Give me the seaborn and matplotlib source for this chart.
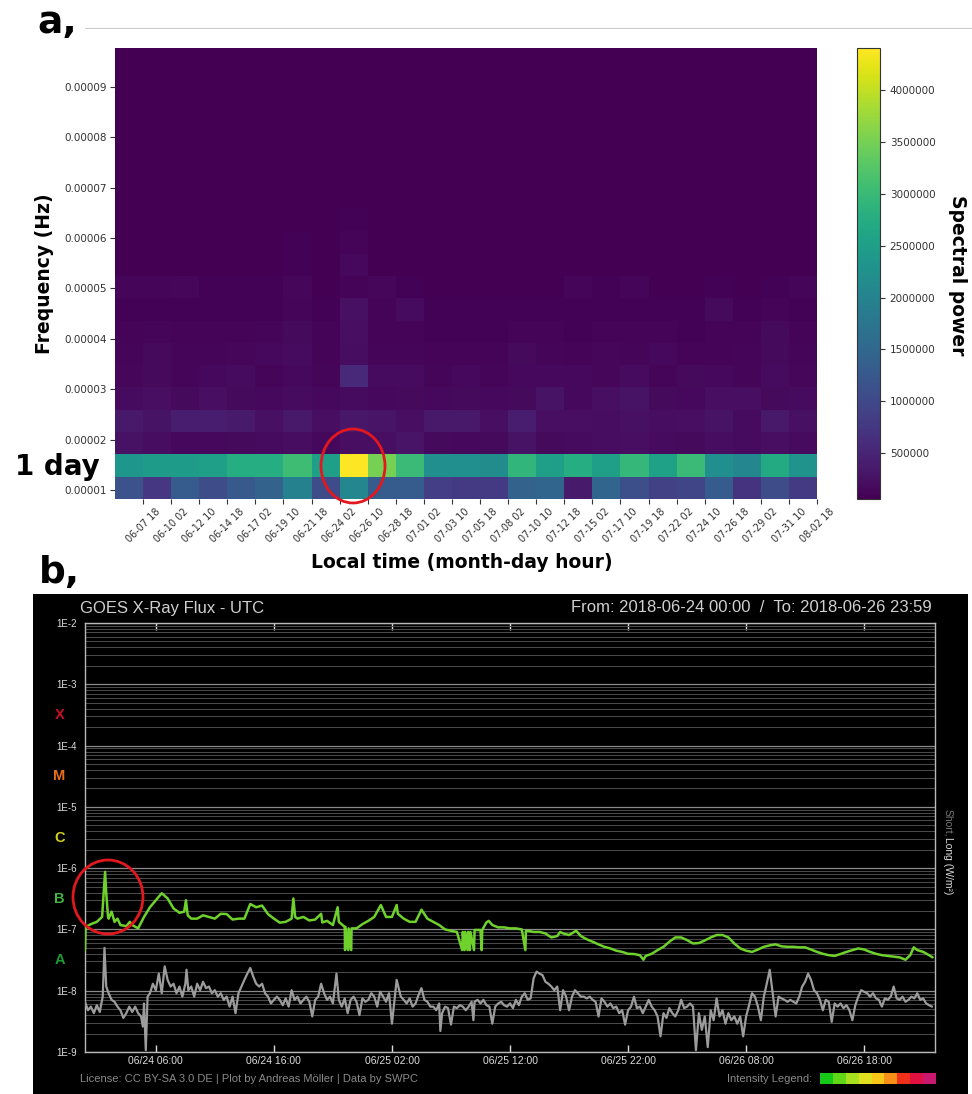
import numpy as np
import pandas as pd
import seaborn as sns
import matplotlib
matplotlib.use("Agg")
import matplotlib.pyplot as plt
from matplotlib.patches import Ellipse, Rectangle
from matplotlib.lines import Line2D
from matplotlib.ticker import LogLocator, NullFormatter

# ---------------- Panel a data ----------------
time_labels = ["06-07 18", "06-10 02", "06-12 10", "06-14 18", "06-17 02", "06-19 10",
               "06-21 18", "06-24 02", "06-26 10", "06-28 18", "07-01 02", "07-03 10",
               "07-05 18", "07-08 02", "07-10 10", "07-12 18", "07-15 02", "07-17 10",
               "07-19 18", "07-22 02", "07-24 10", "07-26 18", "07-29 02", "07-31 10",
               "08-02 18"]
freq_bin_start = 8.2e-6
freq_bin_width = 4.43e-6
freq_top = 9.775e-5
freq_ticks = [1e-5, 2e-5, 3e-5, 4e-5, 5e-5, 6e-5, 7e-5, 8e-5, 9e-5]
freq_tick_labels = ["0.00001", "0.00002", "0.00003", "0.00004", "0.00005",
                    "0.00006", "0.00007", "0.00008", "0.00009"]
cbar_ticks = [500000, 1000000, 1500000, 2000000, 2500000, 3000000, 3500000, 4000000]

# spectral power, rows from lowest frequency bin upward, 25 time segments each
power_r00 = [1.15e6, 0.75e6, 1.3e6, 1.05e6, 1.25e6, 1.4e6, 1.95e6, 1.05e6, 2.05e6, 1.3e6, 1.3e6, 0.85e6, 0.8e6,
             0.8e6, 1.4e6, 1.45e6, 0.35e6, 1.45e6, 1.1e6, 0.9e6, 0.95e6, 1.3e6, 0.7e6, 1.05e6, 0.8e6]
power_r01 = [2.35e6, 2.45e6, 2.45e6, 2.5e6, 2.75e6, 2.75e6, 3.05e6, 2.5e6, 4.41e6, 3.5e6, 3.0e6, 2.2e6, 2.2e6,
             2.15e6, 2.9e6, 2.5e6, 2.75e6, 2.5e6, 2.95e6, 2.55e6, 3.0e6, 2.2e6, 2.05e6, 2.7e6, 2.3e6]
power_r02 = [0.25e6, 0.2e6, 0.15e6, 0.15e6, 0.17e6, 0.18e6, 0.2e6, 0.15e6, 0.22e6, 0.22e6, 0.28e6, 0.16e6, 0.15e6,
             0.16e6, 0.27e6, 0.16e6, 0.18e6, 0.2e6, 0.22e6, 0.18e6, 0.16e6, 0.2e6, 0.18e6, 0.22e6, 0.18e6]
power_r03 = [0.34e6, 0.26e6, 0.38e6, 0.38e6, 0.36e6, 0.24e6, 0.34e6, 0.22e6, 0.32e6, 0.28e6, 0.22e6, 0.34e6, 0.34e6,
             0.22e6, 0.38e6, 0.22e6, 0.22e6, 0.2e6, 0.24e6, 0.2e6, 0.22e6, 0.26e6, 0.18e6, 0.34e6, 0.24e6]
power_r04 = [0.19e6, 0.22e6, 0.16e6, 0.21e6, 0.16e6, 0.15e6, 0.19e6, 0.15e6, 0.19e6, 0.15e6, 0.16e6, 0.15e6, 0.16e6,
             0.15e6, 0.16e6, 0.26e6, 0.15e6, 0.21e6, 0.26e6, 0.16e6, 0.15e6, 0.21e6, 0.22e6, 0.16e6, 0.19e6]
power_r05 = [0.14e6, 0.17e6, 0.12e6, 0.15e6, 0.19e6, 0.12e6, 0.15e6, 0.12e6, 0.55e6, 0.19e6, 0.19e6, 0.12e6, 0.15e6,
             0.12e6, 0.15e6, 0.15e6, 0.15e6, 0.14e6, 0.19e6, 0.12e6, 0.17e6, 0.15e6, 0.12e6, 0.19e6, 0.14e6]
power_r06 = [0.12e6, 0.17e6, 0.12e6, 0.12e6, 0.14e6, 0.15e6, 0.19e6, 0.1e6, 0.2e6, 0.12e6, 0.12e6, 0.1e6, 0.1e6,
             0.1e6, 0.17e6, 0.12e6, 0.1e6, 0.14e6, 0.12e6, 0.15e6, 0.1e6, 0.1e6, 0.12e6, 0.17e6, 0.12e6]
power_r07 = [0.1e6, 0.12e6, 0.1e6, 0.1e6, 0.1e6, 0.12e6, 0.17e6, 0.1e6, 0.22e6, 0.1e6, 0.1e6, 0.08e6, 0.08e6,
             0.08e6, 0.1e6, 0.1e6, 0.08e6, 0.1e6, 0.1e6, 0.1e6, 0.08e6, 0.1e6, 0.1e6, 0.16e6, 0.1e6]
power_r08 = [0.08e6, 0.08e6, 0.08e6, 0.08e6, 0.08e6, 0.08e6, 0.12e6, 0.08e6, 0.24e6, 0.1e6, 0.18e6, 0.08e6, 0.08e6,
             0.08e6, 0.08e6, 0.08e6, 0.08e6, 0.08e6, 0.08e6, 0.08e6, 0.08e6, 0.16e6, 0.08e6, 0.1e6, 0.08e6]
power_r09 = [0.12e6, 0.12e6, 0.13e6, 0.08e6, 0.08e6, 0.08e6, 0.14e6, 0.07e6, 0.1e6, 0.14e6, 0.08e6, 0.07e6, 0.07e6,
             0.07e6, 0.07e6, 0.07e6, 0.12e6, 0.08e6, 0.12e6, 0.07e6, 0.07e6, 0.08e6, 0.07e6, 0.08e6, 0.12e6]
power_r10 = [0.07e6, 0.07e6, 0.07e6, 0.07e6, 0.07e6, 0.07e6, 0.08e6, 0.07e6, 0.15e6, 0.07e6, 0.07e6, 0.07e6, 0.07e6,
             0.07e6, 0.07e6, 0.07e6, 0.07e6, 0.07e6, 0.07e6, 0.07e6, 0.07e6, 0.07e6, 0.07e6, 0.07e6, 0.07e6]
power_r11 = [0.07e6, 0.065e6, 0.065e6, 0.065e6, 0.065e6, 0.065e6, 0.08e6, 0.065e6, 0.1e6, 0.065e6, 0.065e6, 0.065e6,
             0.065e6, 0.065e6, 0.065e6, 0.065e6, 0.065e6, 0.065e6, 0.065e6, 0.065e6, 0.065e6, 0.065e6, 0.065e6,
             0.065e6, 0.065e6]
power_r12 = [0.065e6, 0.065e6, 0.065e6, 0.065e6, 0.065e6, 0.065e6, 0.07e6, 0.065e6, 0.08e6, 0.065e6, 0.065e6, 0.065e6,
             0.065e6, 0.065e6, 0.065e6, 0.065e6, 0.065e6, 0.065e6, 0.065e6, 0.065e6, 0.065e6, 0.065e6, 0.065e6,
             0.065e6, 0.065e6]
power_r13 = [0.065e6] * 25
power_r14 = [0.065e6] * 25
power_r15 = [0.065e6] * 25
power_r16 = [0.065e6] * 25
power_r17 = [0.065e6] * 25
power_r18 = [0.065e6] * 25
power_r19 = [0.065e6] * 25
power_r20 = [0.065e6] * 25

# ---------------- Panel b data (hours after 2018-06-24 00:00 UTC, W/m^2) ----------------
long_hours = [0.0, 0.05, 0.5, 1.0, 1.45, 1.6, 1.7, 1.8, 1.95, 2.0,
              2.25, 2.5, 2.75, 3.0, 3.5, 3.8, 4.0, 4.5, 5.0, 5.5,
              6.0, 6.5, 7.0, 7.5, 8.0, 8.4, 8.55, 8.7, 9.0, 9.5,
              10.0, 10.5, 11.0, 11.5, 12.0, 12.5, 13.0, 13.5, 14.0, 14.5,
              15.0, 15.5, 16.0, 16.5, 17.0, 17.5, 17.65, 17.8, 18.0, 18.5,
              19.0, 19.5, 20.0, 20.1, 20.5, 21.0, 21.4, 21.5, 22.0, 22.03,
              22.06, 22.3, 22.33, 22.55, 22.58, 23.0, 23.5, 24.0, 24.5, 25.06,
              25.5, 26.0, 26.4, 26.5, 27.0, 27.5, 28.0, 28.5, 29.0, 29.5,
              30.0, 30.5, 31.0, 31.5, 31.95, 32.0, 32.15, 32.2, 32.4, 32.45,
              32.6, 32.65, 32.95, 33.0, 33.5, 33.6, 33.65, 34.0, 34.2, 34.5,
              35.0, 35.5, 36.0, 36.5, 37.0, 37.3, 37.35, 37.5, 38.0, 38.5,
              39.0, 39.5, 40.0, 40.25, 40.5, 41.0, 41.6, 42.0, 42.5, 43.0,
              43.5, 44.0, 44.5, 45.0, 45.5, 46.0, 46.5, 47.0, 47.3, 47.5,
              48.0, 48.5, 49.0, 49.5, 50.0, 50.5, 51.0, 51.5, 52.0, 52.5,
              53.0, 53.5, 54.0, 54.5, 55.0, 55.5, 56.0, 56.5, 57.0, 57.5,
              58.0, 58.5, 59.0, 59.5, 60.0, 60.5, 61.0, 61.5, 62.0, 62.5,
              63.0, 63.5, 64.0, 64.5, 65.0, 65.5, 66.0, 66.5, 67.0, 67.5,
              68.0, 68.5, 69.0, 69.5, 69.9, 70.2, 70.5, 71.0, 71.5, 71.8]
long_flux = [4.6e-8, 1.1e-7, 1.22e-7, 1.33e-7, 1.6e-7, 4.4e-7, 8.7e-7, 3.9e-7, 1.6e-7, 1.5e-7,
             1.95e-7, 1.33e-7, 1.5e-7, 1.18e-7, 1.13e-7, 1.33e-7, 1.18e-7, 1.04e-7, 1.6e-7, 2.3e-7,
             3.0e-7, 3.9e-7, 3.2e-7, 2.2e-7, 1.87e-7, 1.95e-7, 3.0e-7, 1.7e-7, 1.5e-7, 1.5e-7,
             1.7e-7, 1.6e-7, 1.5e-7, 1.8e-7, 1.78e-7, 1.45e-7, 1.5e-7, 1.5e-7, 2.6e-7, 2.3e-7,
             2.45e-7, 1.78e-7, 1.5e-7, 1.29e-7, 1.33e-7, 1.5e-7, 3.2e-7, 1.6e-7, 1.5e-7, 1.6e-7,
             1.4e-7, 1.45e-7, 1.8e-7, 1.3e-7, 1.38e-7, 1.18e-7, 2.3e-7, 1.33e-7, 1.1e-7, 4.6e-8,
             1.1e-7, 4.6e-8, 1.04e-7, 4.6e-8, 1.04e-7, 1.04e-7, 1.22e-7, 1.38e-7, 1.6e-7, 2.5e-7,
             1.6e-7, 1.6e-7, 2.5e-7, 1.8e-7, 1.5e-7, 1.33e-7, 1.33e-7, 2.1e-7, 1.5e-7, 1.33e-7,
             1.18e-7, 1.0e-7, 9.5e-8, 9.1e-8, 4.6e-8, 9.1e-8, 4.6e-8, 9.1e-8, 4.6e-8, 9.1e-8,
             4.6e-8, 9.1e-8, 4.6e-8, 9.8e-8, 9.8e-8, 4.6e-8, 9.8e-8, 1.3e-7, 1.38e-7, 1.18e-7,
             1.08e-7, 1.08e-7, 1.04e-7, 1.04e-7, 1.0e-7, 4.6e-8, 9.5e-8, 9.5e-8, 9.1e-8, 9.1e-8,
             8.6e-8, 7.4e-8, 7.8e-8, 9.1e-8, 8.6e-8, 8.1e-8, 9.5e-8, 7.8e-8, 6.9e-8, 6.3e-8,
             5.7e-8, 5.2e-8, 4.9e-8, 4.5e-8, 4.3e-8, 4.0e-8, 3.97e-8, 3.8e-8, 3.2e-8, 3.7e-8,
             4.0e-8, 4.6e-8, 5.2e-8, 6.3e-8, 7.4e-8, 7.4e-8, 6.7e-8, 5.9e-8, 6.0e-8, 6.6e-8,
             7.4e-8, 8.1e-8, 8.1e-8, 7.4e-8, 5.9e-8, 4.9e-8, 4.5e-8, 4.3e-8, 4.7e-8, 5.2e-8,
             5.5e-8, 5.7e-8, 5.3e-8, 5.2e-8, 5.2e-8, 5.1e-8, 5.1e-8, 4.7e-8, 4.3e-8, 4.0e-8,
             3.8e-8, 3.7e-8, 3.97e-8, 4.3e-8, 4.6e-8, 4.9e-8, 4.7e-8, 4.3e-8, 4.0e-8, 3.8e-8,
             3.7e-8, 3.6e-8, 3.5e-8, 3.2e-8, 3.8e-8, 5.1e-8, 4.6e-8, 4.3e-8, 3.8e-8, 3.5e-8]

short_hours = [0.0, 0.25, 0.5, 0.75, 1.0, 1.25, 1.5, 1.65, 1.8, 2.0,
               2.25, 2.5, 2.75, 3.0, 3.25, 3.5, 3.75, 4.0, 4.25, 4.5,
               4.75, 4.9, 5.0, 5.15, 5.3, 5.5, 5.75, 6.0, 6.25, 6.5,
               6.75, 7.0, 7.25, 7.5, 7.75, 8.0, 8.25, 8.5, 8.6, 8.75,
               9.0, 9.25, 9.5, 9.75, 10.0, 10.25, 10.5, 10.75, 11.0, 11.25,
               11.5, 11.75, 12.0, 12.25, 12.5, 12.75, 13.0, 13.25, 13.5, 13.75,
               14.0, 14.25, 14.5, 14.75, 15.0, 15.25, 15.5, 15.75, 16.0, 16.25,
               16.5, 16.75, 17.0, 17.25, 17.5, 17.75, 18.0, 18.25, 18.5, 18.75,
               19.0, 19.25, 19.5, 19.75, 20.0, 20.25, 20.5, 20.75, 21.0, 21.3,
               21.5, 21.75, 22.0, 22.25, 22.5, 22.75, 23.0, 23.25, 23.5, 23.75,
               24.0, 24.25, 24.5, 24.75, 25.0, 25.25, 25.5, 25.75, 26.0, 26.25,
               26.4, 26.75, 27.0, 27.25, 27.5, 27.75, 28.0, 28.25, 28.5, 28.75,
               29.0, 29.25, 29.5, 29.75, 30.0, 30.1, 30.25, 30.5, 30.75, 31.0,
               31.25, 31.5, 31.75, 32.0, 32.25, 32.5, 32.75, 32.9, 33.0, 33.25,
               33.5, 33.75, 34.0, 34.25, 34.5, 34.75, 35.0, 35.25, 35.5, 35.75,
               36.0, 36.25, 36.5, 36.75, 37.0, 37.25, 37.5, 37.75, 38.0, 38.25,
               38.5, 38.75, 39.0, 39.25, 39.5, 39.75, 40.0, 40.25, 40.5, 40.75,
               41.0, 41.25, 41.5, 41.75, 42.0, 42.25, 42.5, 42.75, 43.0, 43.25,
               43.5, 43.75, 44.0, 44.25, 44.5, 44.75, 45.0, 45.25, 45.5, 45.75,
               46.0, 46.25, 46.5, 46.75, 47.0, 47.25, 47.5, 47.75, 48.0, 48.25,
               48.5, 48.75, 49.0, 49.25, 49.5, 49.75, 50.0, 50.25, 50.5, 50.75,
               51.0, 51.25, 51.5, 51.75, 52.0, 52.25, 52.5, 52.75, 53.0, 53.25,
               53.5, 53.75, 54.0, 54.25, 54.5, 54.75, 55.0, 55.25, 55.5, 55.75,
               56.0, 56.25, 56.5, 56.75, 57.0, 57.25, 57.5, 57.75, 58.0, 58.25,
               58.5, 58.75, 59.0, 59.25, 59.5, 59.75, 60.0, 60.25, 60.5, 60.75,
               61.0, 61.25, 61.5, 61.75, 62.0, 62.25, 62.5, 62.75, 63.0, 63.25,
               63.5, 63.75, 64.0, 64.25, 64.5, 64.75, 65.0, 65.25, 65.5, 65.75,
               66.0, 66.25, 66.5, 66.75, 67.0, 67.25, 67.5, 67.75, 68.0, 68.25,
               68.5, 68.75, 69.0, 69.25, 69.5, 69.75, 70.0, 70.25, 70.5, 70.75,
               71.0, 71.25, 71.5, 71.75]
short_flux = [6.6e-9, 4.8e-9, 5.5e-9, 4.3e-9, 5.8e-9, 4.5e-9, 8.0e-9, 5.0e-8, 1.17e-8, 9.1e-9,
              7.1e-9, 6.6e-9, 5.5e-9, 4.8e-9, 3.6e-9, 4.3e-9, 5.5e-9, 4.5e-9, 5.5e-9, 4.3e-9,
              3.8e-9, 2.6e-9, 6.2e-9, 1.07e-9, 8.0e-9, 9.1e-9, 1.3e-8, 1.02e-8, 1.9e-8, 9.1e-9,
              2.5e-8, 1.5e-8, 1.17e-8, 1.3e-8, 9.1e-9, 1.17e-8, 8.0e-9, 1.3e-8, 2.2e-8, 1.02e-8,
              1.17e-8, 8.0e-9, 1.3e-8, 1.02e-8, 1.4e-8, 1.1e-8, 1.17e-8, 9.1e-9, 1.02e-8, 8.0e-9,
              9.1e-9, 7.1e-9, 8.0e-9, 5.5e-9, 8.0e-9, 4.3e-9, 9.1e-9, 1.17e-8, 1.5e-8, 1.9e-8,
              2.35e-8, 1.7e-8, 1.3e-8, 1.17e-8, 1.3e-8, 9.1e-9, 8.0e-9, 6.2e-9, 7.1e-9, 8.0e-9,
              7.1e-9, 5.8e-9, 7.5e-9, 5.5e-9, 1.02e-8, 7.1e-9, 8.0e-9, 6.2e-9, 7.1e-9, 8.0e-9,
              6.6e-9, 3.8e-9, 7.1e-9, 8.0e-9, 1.3e-8, 9.1e-9, 7.1e-9, 8.0e-9, 6.2e-9, 1.9e-8,
              7.1e-9, 5.5e-9, 7.5e-9, 4.3e-9, 7.1e-9, 8.0e-9, 6.6e-9, 4.0e-9, 7.5e-9, 6.6e-9,
              7.1e-9, 9.1e-9, 8.0e-9, 5.5e-9, 9.6e-9, 8.0e-9, 6.6e-9, 9.1e-9, 2.9e-9, 8.0e-9,
              1.5e-8, 8.0e-9, 7.1e-9, 6.2e-9, 7.5e-9, 5.5e-9, 6.2e-9, 8.5e-9, 1.1e-8, 7.1e-9,
              6.6e-9, 5.5e-9, 5.5e-9, 4.8e-9, 6.2e-9, 2.2e-9, 4.3e-9, 5.5e-9, 5.2e-9, 2.8e-9,
              5.5e-9, 5.2e-9, 5.8e-9, 5.5e-9, 4.8e-9, 5.5e-9, 6.6e-9, 3.3e-9, 6.6e-9, 7.1e-9,
              6.2e-9, 7.1e-9, 5.8e-9, 5.5e-9, 2.9e-9, 5.5e-9, 6.2e-9, 6.6e-9, 5.8e-9, 5.5e-9,
              6.2e-9, 5.2e-9, 7.1e-9, 5.8e-9, 8.0e-9, 9.1e-9, 7.1e-9, 7.5e-9, 1.6e-8, 2.05e-8,
              1.9e-8, 1.8e-8, 1.4e-8, 1.3e-8, 1.17e-8, 1.02e-8, 1.17e-8, 4.8e-9, 1.02e-8, 8.0e-9,
              4.8e-9, 8.0e-9, 1.02e-8, 9.1e-9, 8.0e-9, 8.0e-9, 7.5e-9, 8.0e-9, 7.1e-9, 6.6e-9,
              3.8e-9, 7.5e-9, 6.6e-9, 5.5e-9, 6.2e-9, 5.2e-9, 5.5e-9, 4.3e-9, 4.8e-9, 2.8e-9,
              4.8e-9, 5.5e-9, 8.0e-9, 5.2e-9, 5.5e-9, 4.3e-9, 5.5e-9, 7.1e-9, 5.5e-9, 4.8e-9,
              3.8e-9, 1.8e-9, 4.3e-9, 3.6e-9, 5.2e-9, 4.3e-9, 3.8e-9, 4.8e-9, 7.1e-9, 5.2e-9,
              5.5e-9, 6.2e-9, 5.5e-9, 1.07e-9, 4.3e-9, 2.3e-9, 3.8e-9, 1.2e-9, 4.8e-9, 3.3e-9,
              7.5e-9, 3.8e-9, 4.8e-9, 2.9e-9, 4.3e-9, 3.3e-9, 3.8e-9, 2.9e-9, 3.8e-9, 1.8e-9,
              3.8e-9, 5.8e-9, 9.1e-9, 8.0e-9, 5.5e-9, 3.3e-9, 8.0e-9, 1.3e-8, 2.2e-8, 9.1e-9,
              3.8e-9, 8.0e-9, 7.5e-9, 7.1e-9, 6.6e-9, 7.1e-9, 6.6e-9, 6.2e-9, 8.0e-9, 1.17e-8,
              1.4e-8, 1.9e-8, 1.5e-8, 1.02e-8, 9.1e-9, 7.1e-9, 4.8e-9, 7.1e-9, 6.6e-9, 3.1e-9,
              6.2e-9, 5.5e-9, 6.2e-9, 5.2e-9, 5.8e-9, 4.8e-9, 3.3e-9, 5.8e-9, 8.0e-9, 1.02e-8,
              9.6e-9, 9.1e-9, 8.0e-9, 9.1e-9, 7.5e-9, 7.1e-9, 5.5e-9, 7.5e-9, 7.1e-9, 8.0e-9,
              1.17e-8, 7.5e-9, 7.1e-9, 8.0e-9, 6.6e-9, 7.1e-9, 8.0e-9, 7.5e-9, 9.1e-9, 7.1e-9,
              7.5e-9, 6.2e-9, 5.8e-9, 5.5e-9]

goes_xticks = [6, 16, 26, 36, 46, 56, 66]
goes_xticklabels = ["06/24 06:00", "06/24 16:00", "06/25 02:00", "06/25 12:00",
                    "06/25 22:00", "06/26 08:00", "06/26 18:00"]
goes_yticks = [1e-9, 1e-8, 1e-7, 1e-6, 1e-5, 1e-4, 1e-3, 1e-2]
goes_yticklabels = ["1E-9", "1E-8", "1E-7", "1E-6", "1E-5", "1E-4", "1E-3", "1E-2"]
flare_classes = ["X", "M", "C", "B", "A"]
flare_class_levels = [10 ** -3.5, 10 ** -4.5, 10 ** -5.5, 10 ** -6.5, 10 ** -7.5]
flare_class_colors = ["#c8102e", "#e8701a", "#d2d21e", "#46b446", "#1e9a32"]
legend_swatch_colors = ["#18c818", "#60d818", "#a8e020", "#e0e020", "#f8c818",
                        "#f89018", "#f03018", "#e01040", "#c81870"]

# ---------------- Figure ----------------
W, H = 972, 1094
sns.set_theme(style="white")
plt.rcParams['font.family'] = ['DejaVu Sans']
plt.rcParams['text.color'] = 'black'
plt.rcParams['axes.labelcolor'] = 'black'
fig = plt.figure(figsize=(W / 100, H / 100), dpi=100)
fig.patch.set_facecolor("white")


def fx(px):
    return px / W


def fy(py):
    return 1 - py / H


# ---------- Panel a ----------
power = np.array([power_r00, power_r01, power_r02, power_r03, power_r04, power_r05, power_r06,
                  power_r07, power_r08, power_r09, power_r10, power_r11, power_r12, power_r13,
                  power_r14, power_r15, power_r16, power_r17, power_r18, power_r19, power_r20])

ax_a = fig.add_axes([fx(115), fy(499), (817 - 115) / W, (499 - 48) / H])
cax = fig.add_axes([fx(857), fy(499), 23 / W, (499 - 48) / H])
sns.heatmap(power, ax=ax_a, cbar_ax=cax, cmap="viridis", vmin=55000, vmax=4410000,
            xticklabels=False, yticklabels=False)
ax_a.set_xlim(0, power.shape[1])
ax_a.set_ylim(0, (freq_top - freq_bin_start) / freq_bin_width)
ax_a.set_xticks(np.arange(1, len(time_labels) + 1))
ax_a.set_xticklabels(time_labels, rotation=45, fontsize=7, color="#333333")
ax_a.set_yticks([(f - freq_bin_start) / freq_bin_width for f in freq_ticks])
ax_a.set_yticklabels(freq_tick_labels, fontsize=7.5, color="#333333")
ax_a.tick_params(axis="both", bottom=True, left=True, length=3.5, width=0.8, color="#333333", pad=2)
for s in ax_a.spines.values():
    s.set_visible(False)

cbar = ax_a.collections[0].colorbar
cbar.set_ticks(cbar_ticks)
cbar.set_ticklabels([str(t) for t in cbar_ticks])
cbar.ax.tick_params(labelsize=7.5, length=3.5, width=0.8, colors="#333333")
cbar.outline.set_linewidth(0.8)
cbar.outline.set_edgecolor("#333333")

fig.text(fx(44), fy(274), "Frequency (Hz)", rotation=90, fontsize=13.5, fontweight="bold",
         ha="center", va="center", color="black")
fig.text(fx(462), fy(563), "Local time (month-day hour)", fontsize=13.5, fontweight="bold",
         ha="center", va="center", color="black")
fig.text(fx(957), fy(275), "Spectral power", rotation=270, fontsize=13.5, fontweight="bold",
         ha="center", va="center", color="black")
fig.text(fx(57), fy(467), "1 day", fontsize=20, fontweight="bold", ha="center", va="center",
         color="black")
fig.text(fx(37), fy(33), "a,", fontsize=27, fontweight="bold", ha="left", va="baseline",
         color="black")
fig.text(fx(39), fy(583), "b,", fontsize=27, fontweight="bold", ha="left", va="baseline",
         color="black")
fig.add_artist(Line2D([fx(85), 1.0], [fy(28), fy(28)], color="#cccccc", lw=0.8))

fig.add_artist(Ellipse((fx(353), fy(466)), 64 / W, 74 / H, fill=False, ec="#e3171e", lw=2.0,
                       transform=fig.transFigure, zorder=10))

# ---------- Panel b ----------
fig.add_artist(Rectangle((fx(33), 0), (968 - 33) / W, fy(594), facecolor="black",
                         edgecolor="none", transform=fig.transFigure, zorder=0))

ax_b = fig.add_axes([fx(85), fy(1052), 850 / W, (1052 - 623) / H])
ax_b.set_facecolor("black")

short_df = pd.DataFrame({"hours": short_hours, "flux": short_flux})
long_df = pd.DataFrame({"hours": long_hours, "flux": long_flux})
sns.lineplot(data=short_df, x="hours", y="flux", ax=ax_b, color="#9c9c9c", lw=1.6,
             estimator=None, zorder=3)
sns.lineplot(data=long_df, x="hours", y="flux", ax=ax_b, color="#6fd22c", lw=1.8,
             estimator=None, zorder=4)
ax_b.set_yscale("log")
ax_b.set_ylim(1e-9, 1e-2)
ax_b.set_xlim(0, 72)
ax_b.set_xlabel("")
ax_b.set_ylabel("")
ax_b.yaxis.set_minor_locator(LogLocator(base=10, subs=np.arange(2, 10)))
ax_b.yaxis.set_minor_formatter(NullFormatter())
ax_b.grid(which="minor", axis="y", color="#4c4c4c", lw=0.7)
ax_b.grid(which="major", axis="y", color="#8a8a8a", lw=0.9)
ax_b.grid(which="major", axis="x", visible=False)
ax_b.set_axisbelow(True)

narrow = ["Liberation Sans Narrow", "Liberation Sans", "DejaVu Sans"]
ax_b.set_xticks(goes_xticks)
ax_b.set_xticklabels(goes_xticklabels, fontsize=7.5, color="#dddddd", family=narrow)
ax_b.set_yticks(goes_yticks)
ax_b.set_yticklabels(goes_yticklabels, fontsize=7, color="#dddddd", family=narrow)
ax_b.tick_params(axis="x", which="major", direction="in", top=True, bottom=True, length=5,
                 width=1, color="#dddddd", pad=3)
ax_b.tick_params(axis="y", which="both", length=0, pad=6)
for s in ax_b.spines.values():
    s.set_color("#b8b8b8")
    s.set_linewidth(1.0)

ytr = ax_b.get_yaxis_transform()
for lab, lvl, col in zip(flare_classes, flare_class_levels, flare_class_colors):
    ax_b.text(-0.03, lvl, lab, transform=ytr, color=col, fontsize=10.5, fontweight="bold",
              ha="center", va="center", family=narrow)

fig.text(fx(80), fy(608), "GOES X-Ray Flux - UTC", color="#d0d0d0", fontsize=12, ha="left",
         va="center", family=narrow)
fig.text(fx(932), fy(608), "From: 2018-06-24 00:00  /  To: 2018-06-26 23:59", color="#d0d0d0",
         fontsize=12, ha="right", va="center", family=narrow)
fig.text(fx(948), fy(823), "Short,", rotation=270, color="#777777", fontsize=7.5, ha="center",
         va="center", family=narrow)
fig.text(fx(948), fy(866), "Long (W/m²)", rotation=270, color="#dddddd", fontsize=7.5,
         ha="center", va="center", family=narrow)
fig.text(fx(80), fy(1079), "License: CC BY-SA 3.0 DE | Plot by Andreas Möller | Data by SWPC",
         color="#8a8a8a", fontsize=8, ha="left", va="center", family=narrow)
fig.text(fx(812), fy(1079), "Intensity Legend:", color="#8a8a8a", fontsize=8, ha="right",
         va="center", family=narrow)
sw_w = (936 - 820) / len(legend_swatch_colors)
for i, c in enumerate(legend_swatch_colors):
    fig.add_artist(Rectangle((fx(820 + i * sw_w), fy(1084)), sw_w / W, 11 / H, facecolor=c,
                             edgecolor="none", transform=fig.transFigure, zorder=5))

fig.add_artist(Ellipse((fx(108), fy(897)), 70 / W, 74 / H, fill=False, ec="#e3171e", lw=2.0,
                       transform=fig.transFigure, zorder=10))

fig.savefig("out.png", dpi=100, facecolor="white")
